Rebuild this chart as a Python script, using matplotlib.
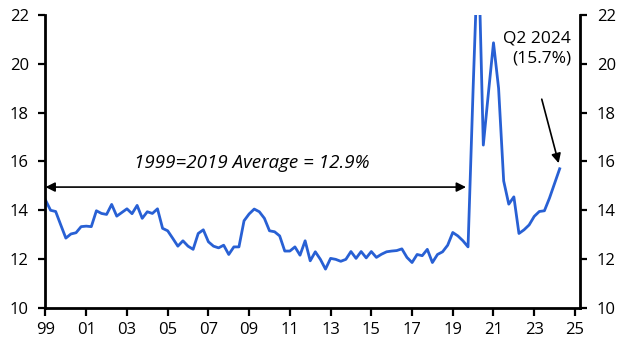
import matplotlib
matplotlib.use("Agg")
import matplotlib.pyplot as plt
import numpy as np

plt.rcParams['font.family'] = ['Open Sans', 'DejaVu Sans']

start_year = 1999
values = [
    14.42, 14.0, 13.95, 13.4, 12.86, 13.03, 13.08, 13.33, 13.35, 13.33,
    13.98, 13.87, 13.83, 14.24, 13.76, 13.91, 14.06, 13.86, 14.2, 13.67,
    13.94, 13.87, 14.06, 13.26, 13.16, 12.85, 12.53, 12.75, 12.53, 12.4,
    13.05, 13.2, 12.71, 12.53, 12.46, 12.57, 12.19, 12.5, 12.5, 13.57,
    13.85, 14.05, 13.94, 13.67, 13.16, 13.12, 12.95, 12.33, 12.33, 12.5,
    12.16, 12.75, 11.93, 12.3, 11.99, 11.59, 12.03, 11.99, 11.91, 11.99,
    12.31, 12.03, 12.31, 12.05, 12.31, 12.07, 12.2, 12.3, 12.33, 12.35,
    12.42, 12.07, 11.86, 12.19, 12.14, 12.4, 11.86, 12.19, 12.3, 12.57,
    13.09, 12.95, 12.75, 12.5, 19.0, 25.0, 16.67, 18.8, 20.86, 19.0,
    15.2, 14.25, 14.55, 13.05, 13.2, 13.4, 13.75, 13.95, 13.98, 14.5,
    15.1, 15.7,
]
tick_years = list(range(1999, 2026, 2))
tick_labels = [f"{y % 100:02d}" for y in tick_years]
y_ticks = [10, 12, 14, 16, 18, 20, 22]
avg_label = "1999=2019 Average = 12.9%"
latest_label = "Q2 2024\n(15.7%)"

x = start_year + np.arange(len(values)) / 4.0

fig = plt.figure(figsize=(6.3, 3.56), dpi=100)
ax = fig.add_axes([0.0722, 0.135, 0.8485, 0.823])
ax.plot(x, values, color='#2860D4', lw=2.0, solid_joinstyle='round', clip_on=True)

ax.set_xlim(1999, 2025.25)
ax.set_ylim(10, 22)
ax.set_xticks(tick_years)
ax.set_xticklabels(tick_labels)
ax.set_yticks(y_ticks)
ax.tick_params(axis='both', direction='out', width=1.6, labelsize=12, colors='black')
ax.tick_params(axis='y', length=5, pad=7)
ax.tick_params(axis='x', length=6, pad=4)
ax.tick_params(axis='y', which='both', right=True, labelright=True)

for s in ['left', 'right', 'bottom']:
    ax.spines[s].set_linewidth(2.0)
ax.spines['top'].set_visible(False)

# average arrow
ax.annotate('', xy=(1999.0, 14.95), xytext=(2019.65, 14.95),
            arrowprops=dict(arrowstyle='<|-|>', color='black', lw=1.2,
                            mutation_scale=14, shrinkA=0, shrinkB=0))
ax.text(2009.15, 15.55, avg_label, style='italic', ha='center', va='bottom', fontsize=13.5)

# latest annotation
ax.text(2024.8, 19.9, latest_label, ha='right', va='bottom', fontsize=12.5, linespacing=1.3)
ax.annotate('', xy=(2024.2, 15.93), xytext=(2023.37, 18.55),
            arrowprops=dict(arrowstyle='-|>', color='black', lw=1.2,
                            mutation_scale=14, shrinkA=0, shrinkB=0))

fig.savefig('out.png', dpi=100)
